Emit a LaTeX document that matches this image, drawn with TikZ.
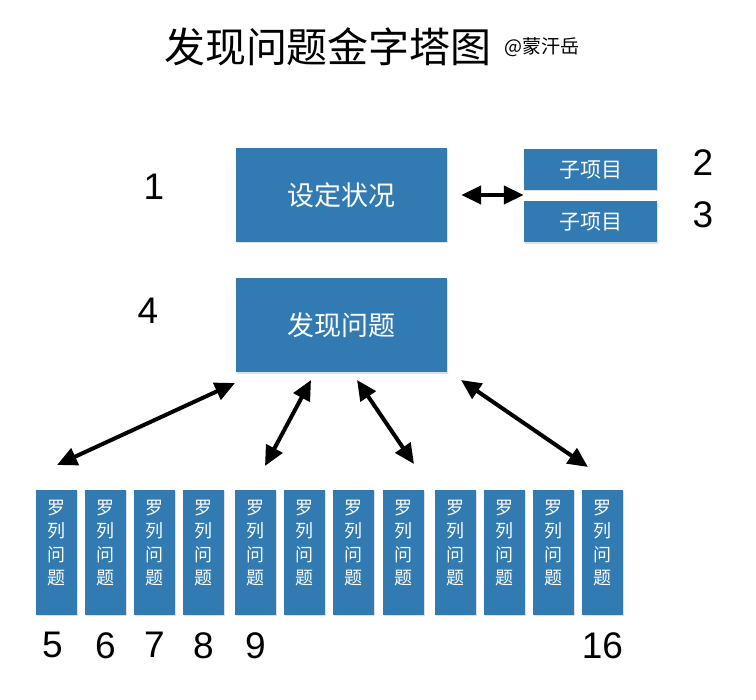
\documentclass[tikz,border=0pt]{standalone}
\usepackage{fontspec}
\setmainfont{Liberation Sans}
\newfontfamily\cjk{Noto Sans CJK SC}
\usetikzlibrary{arrows.meta, positioning, shadows}

\definecolor{boxblue}{RGB}{49,122,178}

\begin{document}
\begin{tikzpicture}[
  x=1pt, y=-1pt,
  % --- shared block base ---
  blkbase/.style={
    fill=boxblue, draw=none, inner sep=0pt, text=white,
    drop shadow={shadow xshift=1pt, shadow yshift=-1.5pt, opacity=0.25}
  },
  % --- block types ---
  bigblk/.style={blkbase, minimum width=211pt, minimum height=94pt,
    font=\cjk\fontsize{27}{30}\selectfont},
  subblk/.style={blkbase, minimum width=133pt, minimum height=41pt,
    font=\cjk\fontsize{21}{24}\selectfont},
  listblk/.style={blkbase, minimum width=41pt, minimum height=125pt},
  listtxt/.style={text=white, align=center, inner sep=0pt,
    font=\cjk\fontsize{18}{23.3}\selectfont},
  % --- labels ---
  titletxt/.style={font=\cjk\fontsize{41}{45}\selectfont, inner sep=0pt},
  authtxt/.style={font=\cjk\fontsize{19}{21}\selectfont, inner sep=0pt},
  numlbl/.style={font=\fontsize{37}{40}\selectfont, inner sep=0pt},
  % --- arrows ---
  dblarr/.style={{Triangle[length=20pt, width=18pt]}-{Triangle[length=20pt, width=18pt]},
    line width=4pt},
]

\fill[white] (0,0) rectangle (756,700);
\useasboundingbox (0,0) rectangle (756,700);

% ===================== TITLE =====================

\node[titletxt] (title) at (328,47) {发现问题金字塔图};
\node[authtxt, right=12pt of title] (author) {@蒙汗岳};

% ===================== TOP ROWS =====================

\node[bigblk] (sd) at (341.5,195) {设定状况};
\node[subblk] (s1) at (590.5,169.5) {子项目};
\node[subblk, below=11pt of s1] (s2) {子项目};
\node[bigblk, below=36pt of sd] (fx) {发现问题};

\node[numlbl] (n1) at (154,187) {1};
\node[numlbl] (n2) at (703,163) {2};
\node[numlbl] (n3) at (703,215) {3};
\node[numlbl] (n4) at (148,311) {4};

\draw[dblarr, shorten <=14pt] (sd.east) -- (sd.east -| s1.west);

% ===================== LIST ROW =====================

\foreach \i/\x in {1/56.5, 2/105.5, 3/154.5, 4/203.5, 5/255.5, 6/304.5,
                   7/353.5, 8/403.5, 9/455.5, 10/504.5, 11/553.5, 12/602.5} {
  \node[listblk] (lp\i) at (\x,552.5) {};
  \node[listtxt] (lt\i) at (\x,543) {罗\\列\\问\\题};
}

\node[numlbl, below=17pt of lp1, xshift=-4pt] (n5) {5};
\node[numlbl, below=17pt of lp2] (n6) {6};
\node[numlbl, below=17pt of lp3] (n7) {7};
\node[numlbl, below=17pt of lp4] (n8) {8};
\node[numlbl, below=17pt of lp5] (n9) {9};
\node[numlbl, below=17pt of lp12] (n16) {16};

% ===================== CONNECTIONS =====================

\foreach \n/\tx/\ty/\bx/\by in {1/235/383/57/465, 2/311/380/265/466,
                                3/357/380/414/464, 4/461/380/588/467} {
  \coordinate (up\n) at (\tx,\ty);
  \coordinate (lo\n) at (\bx,\by);
  \draw[dblarr] (up\n) -- (lo\n);
}

\end{tikzpicture}
\end{document}
